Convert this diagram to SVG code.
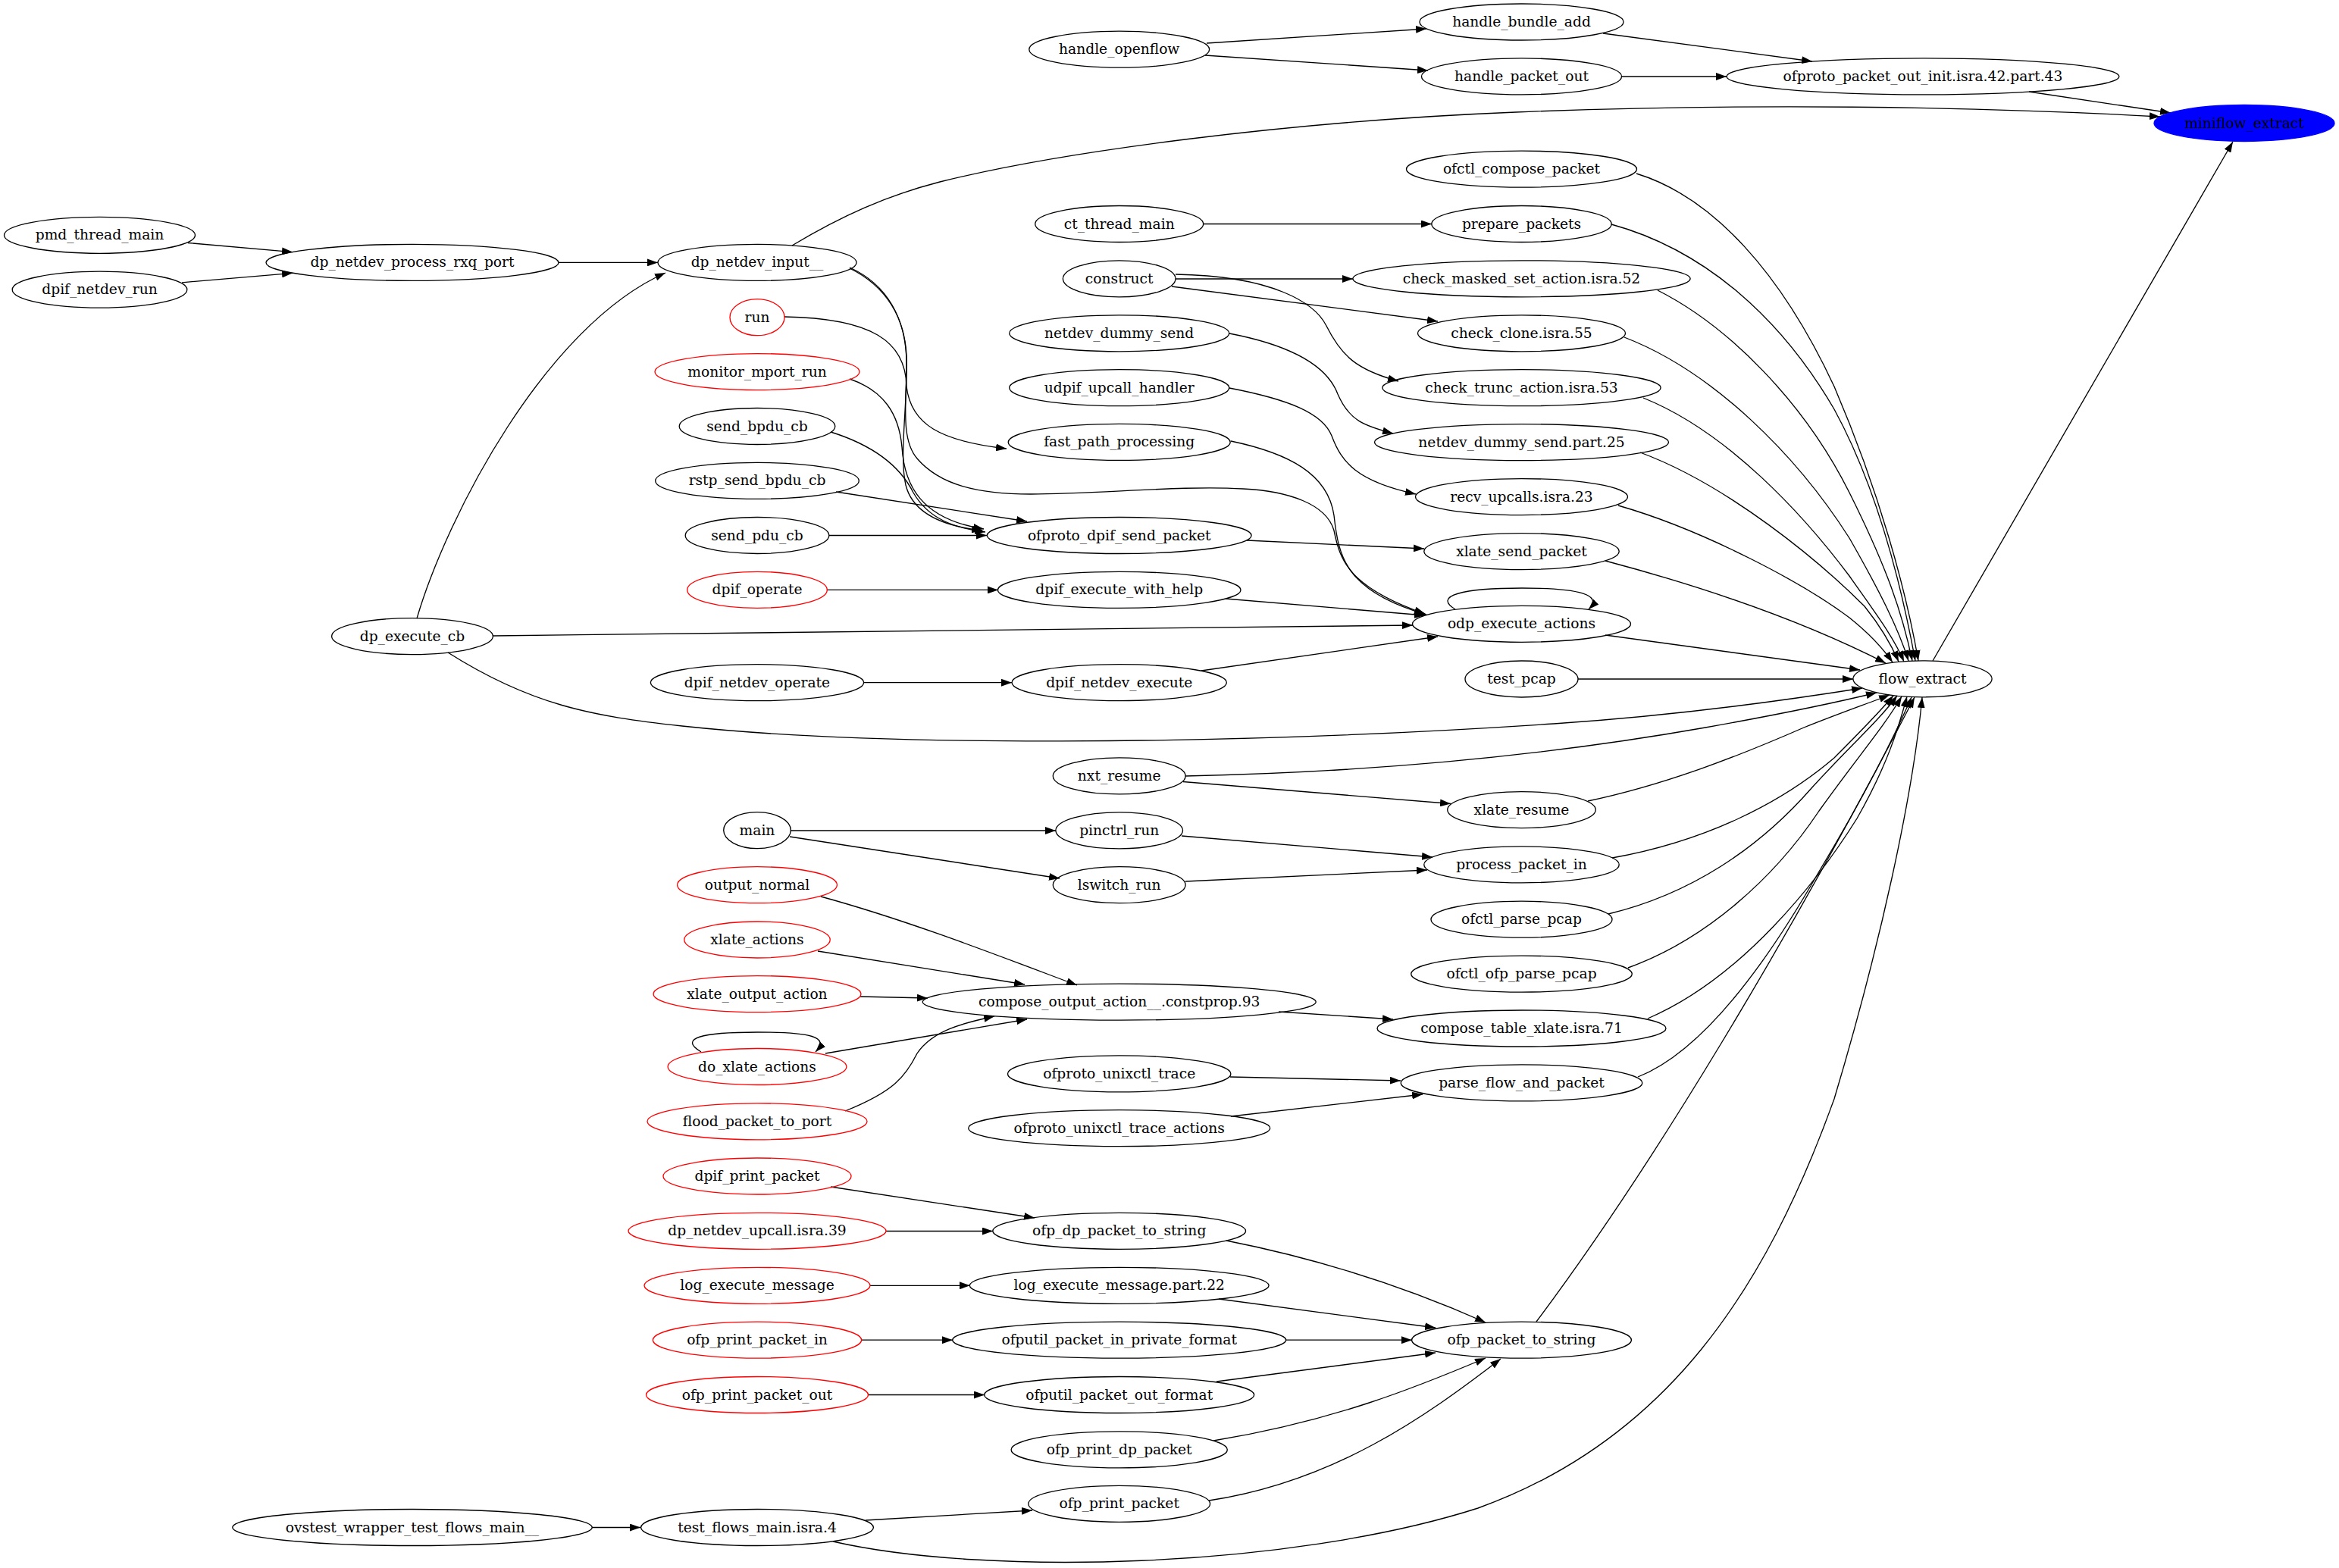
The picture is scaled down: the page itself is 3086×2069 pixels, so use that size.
<svg xmlns="http://www.w3.org/2000/svg" width="3086" height="2069" viewBox="0 0 3086 2069">
<style>
.n ellipse{fill:none;stroke:#000;stroke-width:1.33}
.r ellipse{stroke:#ff0000}
.n text{font-family:"DejaVu Serif","Liberation Serif",serif;font-size:18.67px;text-anchor:middle;fill:#000}
#edges path{fill:none;stroke:#000;stroke-width:1.33;marker-end:url(#ah)}
</style>
<defs>
<marker id="ah" markerUnits="userSpaceOnUse" markerWidth="14" markerHeight="10" viewBox="0 0 13.3 9.4" refX="13.3" refY="4.7" orient="auto"><path d="M0,0 L13.3,4.7 L0,9.4 z" fill="#000"/></marker>
</defs>
<rect width="3086" height="2069" fill="#fff"/>
<g id="edges">
<path d="M248,320.5 L386,332.6"/>
<path d="M240,372.8 L386,360.3"/>
<path d="M737,346.4 L868,346.4"/>
<path d="M550,816 C590,680 720,430 878,360"/>
<path d="M1045,324 C1110,285 1170,258 1240,240 C1400,200 1700,160 2000,148 C2300,136 2600,140 2850,154"/>
<path d="M1592,57 L1882,38"/>
<path d="M1590,73 L1884,93"/>
<path d="M2115,44 L2391,81"/>
<path d="M2139,101 L2278,101"/>
<path d="M2677,121 L2864,149"/>
<path d="M2550,872 L2946,187"/>
<path d="M1588,295.5 L1889,295.5"/>
<path d="M1551,368 L1785,368"/>
<path d="M1546,378 L1897,424"/>
<path d="M1551,362 C1680,364 1735,400 1750,430 C1770,470 1790,488 1845,503"/>
<path d="M1622,440 C1700,455 1750,480 1765,520 C1780,555 1800,562 1838,572"/>
<path d="M1622,512 C1700,527 1745,545 1757,575 C1770,610 1790,635 1868,652"/>
<path d="M1035,418 C1150,420 1195,450 1196,510 C1202,560 1240,582 1328,592"/>
<path d="M1121,353 C1170,375 1196,420 1196,480 C1196,530 1188,580 1210,605 C1240,640 1290,652 1360,652 C1450,652 1560,640 1640,645 C1700,648 1750,665 1760,700 C1768,740 1780,775 1880,810"/>
<path d="M1624,582 C1700,598 1752,625 1760,680 C1766,735 1775,780 1882,811"/>
<path d="M1121,354 C1170,378 1194,420 1196,470 C1198,530 1186,600 1195,640 C1205,680 1250,695 1296,700"/>
<path d="M1121,500 C1165,515 1186,545 1190,590 C1193,640 1215,685 1298,698"/>
<path d="M1096,570 C1160,590 1190,620 1205,650 C1225,685 1260,697 1300,702"/>
<path d="M1103,649 L1355,688"/>
<path d="M1094,706.5 L1302,706.5"/>
<path d="M1645,713 L1879,724"/>
<path d="M1091,778.4 L1317,778.4"/>
<path d="M1617,790 L1880,812"/>
<path d="M650,839 L1864,825"/>
<path d="M1140,900.7 L1335,900.7"/>
<path d="M1585,885 L1897,840"/>
<path d="M591,861 C700,930 780,945 900,958 C1150,985 1600,985 2050,955 C2200,945 2350,925 2457,908"/>
<path d="M2118,838 L2454,884"/>
<path d="M2082,896 L2445,896"/>
<path d="M1564,1024 C1850,1018 2080,990 2250,960 C2340,944 2410,930 2476,914"/>
<path d="M1561,1031.5 L1914,1060.5"/>
<path d="M2095,1057 C2200,1035 2300,995 2380,960 C2430,940 2465,928 2493,917"/>
<path d="M1043,1096 L1393,1096"/>
<path d="M1042,1104 L1398,1159"/>
<path d="M1559,1103 L1890,1131"/>
<path d="M1564,1163 L1883,1148"/>
<path d="M2127,1132 C2250,1110 2350,1060 2420,1000 C2450,970 2475,945 2498,918"/>
<path d="M2122,1206 C2230,1180 2320,1120 2390,1040 C2440,985 2480,950 2503,918"/>
<path d="M2148,1277 C2250,1240 2340,1160 2400,1070 C2450,1000 2485,960 2509,919"/>
<path d="M2174,1344 C2300,1290 2400,1160 2450,1080 C2490,1010 2505,960 2516,919"/>
<path d="M2161,1421 C2240,1390 2320,1290 2400,1150 C2460,1050 2500,970 2522,920"/>
<path d="M2027,1744 C2180,1540 2360,1240 2526,920"/>
<path d="M1099,2034 C1300,2080 1700,2070 1950,1990 C2200,1900 2330,1700 2420,1450 C2480,1250 2524,1050 2536,920"/>
<path d="M2159,229 C2260,260 2350,360 2420,510 C2480,650 2515,780 2531,872"/>
<path d="M2126,296 C2250,330 2350,420 2420,540 C2480,650 2510,780 2527,872"/>
<path d="M2187,383 C2280,430 2380,530 2440,650 C2490,750 2510,810 2523,872"/>
<path d="M2143,445 C2260,490 2370,600 2440,710 C2480,780 2505,830 2518,872"/>
<path d="M2168,525 C2280,570 2380,680 2440,760 C2475,810 2498,840 2512,873"/>
<path d="M2164,597 C2280,640 2400,740 2460,800 C2480,825 2495,850 2505,873"/>
<path d="M2135,667 C2250,700 2380,770 2440,815 C2465,835 2482,852 2497,874"/>
<path d="M2118,740 C2250,775 2380,820 2488,875"/>
<path d="M1083,1183 C1200,1215 1320,1262 1421,1300"/>
<path d="M1079,1255 L1352,1299"/>
<path d="M1135,1315 L1224,1317"/>
<path d="M1089,1390 L1355,1345"/>
<path d="M1115,1466 C1180,1440 1195,1420 1210,1390 C1230,1360 1270,1350 1312,1341"/>
<path d="M925,1388 C895,1370 925,1362 999,1362 C1070,1362 1095,1368 1076,1388"/>
<path d="M1687,1335 L1838,1345"/>
<path d="M1623,1421 L1848,1426"/>
<path d="M1624,1473 L1877,1444"/>
<path d="M1096,1566 L1365,1607"/>
<path d="M1169,1624.5 L1310,1624.5"/>
<path d="M1148,1696.3 L1280,1696.3"/>
<path d="M1136,1768.2 L1257,1768.2"/>
<path d="M1146,1840.5 L1299,1840.5"/>
<path d="M1618,1637 C1760,1665 1870,1705 1960,1745"/>
<path d="M1608,1714 L1894,1752"/>
<path d="M1697,1768.2 L1863,1768.2"/>
<path d="M1605,1823 L1894,1785"/>
<path d="M1601,1901 C1760,1875 1870,1830 1960,1792"/>
<path d="M1595,1980 C1760,1955 1880,1870 1980,1793"/>
<path d="M781,2015.5 L845,2015.5"/>
<path d="M1142,2006 L1362,1993"/>
<path d="M1920,804 C1890,786 1930,776 2008,776 C2085,776 2115,785 2096,804"/>
</g>
<g id="n_pmd_thread_main" class="n"><ellipse cx="131.5" cy="310.3" rx="126" ry="24"/><text x="131.5" y="316.3">pmd_thread_main</text></g>
<g id="n_dpif_netdev_run" class="n"><ellipse cx="131.5" cy="382.2" rx="115.3" ry="24"/><text x="131.5" y="388.2">dpif_netdev_run</text></g>
<g id="n_dp_netdev_process_rxq_port" class="n"><ellipse cx="544" cy="346.4" rx="193" ry="24"/><text x="544" y="352.4">dp_netdev_process_rxq_port</text></g>
<g id="n_dp_execute_cb" class="n"><ellipse cx="544" cy="839.6" rx="106.4" ry="24"/><text x="544" y="845.6">dp_execute_cb</text></g>
<g id="n_ovstest_wrapper_test_flows_main__" class="n"><ellipse cx="544" cy="2015.5" rx="237.2" ry="24"/><text x="544" y="2021.5">ovstest_wrapper_test_flows_main__</text></g>
<g id="n_dp_netdev_input__" class="n"><ellipse cx="999" cy="346.4" rx="131" ry="24"/><text x="999" y="352.4">dp_netdev_input__</text></g>
<g id="n_run" class="n r"><ellipse cx="999" cy="418.7" rx="36" ry="24"/><text x="999" y="424.7">run</text></g>
<g id="n_monitor_mport_run" class="n r"><ellipse cx="999" cy="490.6" rx="135" ry="24"/><text x="999" y="496.6">monitor_mport_run</text></g>
<g id="n_send_bpdu_cb" class="n"><ellipse cx="999" cy="562.5" rx="102.8" ry="24"/><text x="999" y="568.5">send_bpdu_cb</text></g>
<g id="n_rstp_send_bpdu_cb" class="n"><ellipse cx="999" cy="634.4" rx="134.3" ry="24"/><text x="999" y="640.4">rstp_send_bpdu_cb</text></g>
<g id="n_send_pdu_cb" class="n"><ellipse cx="999" cy="706.5" rx="94.8" ry="24"/><text x="999" y="712.5">send_pdu_cb</text></g>
<g id="n_dpif_operate" class="n r"><ellipse cx="999" cy="778.4" rx="92.3" ry="24"/><text x="999" y="784.4">dpif_operate</text></g>
<g id="n_dpif_netdev_operate" class="n"><ellipse cx="999" cy="900.7" rx="140.6" ry="24"/><text x="999" y="906.7">dpif_netdev_operate</text></g>
<g id="n_main" class="n"><ellipse cx="999" cy="1095.6" rx="44.3" ry="24"/><text x="999" y="1101.6">main</text></g>
<g id="n_output_normal" class="n r"><ellipse cx="999" cy="1167.7" rx="105.4" ry="24"/><text x="999" y="1173.7">output_normal</text></g>
<g id="n_xlate_actions" class="n r"><ellipse cx="999" cy="1240" rx="96.2" ry="24"/><text x="999" y="1246">xlate_actions</text></g>
<g id="n_xlate_output_action" class="n r"><ellipse cx="999" cy="1311.6" rx="137" ry="24"/><text x="999" y="1317.6">xlate_output_action</text></g>
<g id="n_do_xlate_actions" class="n r"><ellipse cx="999" cy="1407.5" rx="117.9" ry="24"/><text x="999" y="1413.5">do_xlate_actions</text></g>
<g id="n_flood_packet_to_port" class="n r"><ellipse cx="999" cy="1479.8" rx="145" ry="24"/><text x="999" y="1485.8">flood_packet_to_port</text></g>
<g id="n_dpif_print_packet" class="n r"><ellipse cx="999" cy="1552" rx="124" ry="24"/><text x="999" y="1558">dpif_print_packet</text></g>
<g id="n_dp_netdev_upcall_isra_39" class="n r"><ellipse cx="999" cy="1624.3" rx="170" ry="24"/><text x="999" y="1630.3">dp_netdev_upcall.isra.39</text></g>
<g id="n_log_execute_message" class="n r"><ellipse cx="999" cy="1696.3" rx="149" ry="24"/><text x="999" y="1702.3">log_execute_message</text></g>
<g id="n_ofp_print_packet_in" class="n r"><ellipse cx="999" cy="1768.2" rx="137.6" ry="24"/><text x="999" y="1774.2">ofp_print_packet_in</text></g>
<g id="n_ofp_print_packet_out" class="n r"><ellipse cx="999" cy="1840.5" rx="146.5" ry="24"/><text x="999" y="1846.5">ofp_print_packet_out</text></g>
<g id="n_test_flows_main_isra_4" class="n"><ellipse cx="999" cy="2015.5" rx="153.4" ry="24"/><text x="999" y="2021.5">test_flows_main.isra.4</text></g>
<g id="n_handle_openflow" class="n"><ellipse cx="1476.7" cy="65.2" rx="118.9" ry="24"/><text x="1476.7" y="71.2">handle_openflow</text></g>
<g id="n_ct_thread_main" class="n"><ellipse cx="1476.7" cy="295.5" rx="111" ry="24"/><text x="1476.7" y="301.5">ct_thread_main</text></g>
<g id="n_construct" class="n"><ellipse cx="1476.7" cy="367.8" rx="74.3" ry="24"/><text x="1476.7" y="373.8">construct</text></g>
<g id="n_netdev_dummy_send" class="n"><ellipse cx="1476.7" cy="439.8" rx="145" ry="24"/><text x="1476.7" y="445.8">netdev_dummy_send</text></g>
<g id="n_udpif_upcall_handler" class="n"><ellipse cx="1476.7" cy="511.7" rx="145" ry="24"/><text x="1476.7" y="517.7">udpif_upcall_handler</text></g>
<g id="n_fast_path_processing" class="n"><ellipse cx="1476.7" cy="583.4" rx="146.5" ry="24"/><text x="1476.7" y="589.4">fast_path_processing</text></g>
<g id="n_ofproto_dpif_send_packet" class="n"><ellipse cx="1476.7" cy="706.5" rx="174.4" ry="24"/><text x="1476.7" y="712.5">ofproto_dpif_send_packet</text></g>
<g id="n_dpif_execute_with_help" class="n"><ellipse cx="1476.7" cy="778.4" rx="160.3" ry="24"/><text x="1476.7" y="784.4">dpif_execute_with_help</text></g>
<g id="n_dpif_netdev_execute" class="n"><ellipse cx="1476.7" cy="900.7" rx="141.6" ry="24"/><text x="1476.7" y="906.7">dpif_netdev_execute</text></g>
<g id="n_nxt_resume" class="n"><ellipse cx="1476.7" cy="1023.9" rx="87.4" ry="24"/><text x="1476.7" y="1029.9">nxt_resume</text></g>
<g id="n_pinctrl_run" class="n"><ellipse cx="1476.7" cy="1095.8" rx="83.8" ry="24"/><text x="1476.7" y="1101.8">pinctrl_run</text></g>
<g id="n_lswitch_run" class="n"><ellipse cx="1476.7" cy="1167.7" rx="87.4" ry="24"/><text x="1476.7" y="1173.7">lswitch_run</text></g>
<g id="n_compose_output_action__constprop_93" class="n"><ellipse cx="1476.7" cy="1322.1" rx="259.5" ry="24"/><text x="1476.7" y="1328.1">compose_output_action__.constprop.93</text></g>
<g id="n_ofproto_unixctl_trace" class="n"><ellipse cx="1476.7" cy="1416.9" rx="147.2" ry="24"/><text x="1476.7" y="1422.9">ofproto_unixctl_trace</text></g>
<g id="n_ofproto_unixctl_trace_actions" class="n"><ellipse cx="1476.7" cy="1488.7" rx="199" ry="24"/><text x="1476.7" y="1494.7">ofproto_unixctl_trace_actions</text></g>
<g id="n_ofp_dp_packet_to_string" class="n"><ellipse cx="1476.7" cy="1624.3" rx="166.9" ry="24"/><text x="1476.7" y="1630.3">ofp_dp_packet_to_string</text></g>
<g id="n_log_execute_message_part_22" class="n"><ellipse cx="1476.7" cy="1696.3" rx="197.4" ry="24"/><text x="1476.7" y="1702.3">log_execute_message.part.22</text></g>
<g id="n_ofputil_packet_in_private_format" class="n"><ellipse cx="1476.7" cy="1768.2" rx="220" ry="24"/><text x="1476.7" y="1774.2">ofputil_packet_in_private_format</text></g>
<g id="n_ofputil_packet_out_format" class="n"><ellipse cx="1476.7" cy="1840.5" rx="178" ry="24"/><text x="1476.7" y="1846.5">ofputil_packet_out_format</text></g>
<g id="n_ofp_print_dp_packet" class="n"><ellipse cx="1476.7" cy="1912.9" rx="142.6" ry="24"/><text x="1476.7" y="1918.9">ofp_print_dp_packet</text></g>
<g id="n_ofp_print_packet" class="n"><ellipse cx="1476.7" cy="1984.3" rx="119.9" ry="24"/><text x="1476.7" y="1990.3">ofp_print_packet</text></g>
<g id="n_handle_bundle_add" class="n"><ellipse cx="2007.5" cy="29" rx="134.5" ry="24"/><text x="2007.5" y="35">handle_bundle_add</text></g>
<g id="n_handle_packet_out" class="n"><ellipse cx="2007.5" cy="100.9" rx="132" ry="24"/><text x="2007.5" y="106.9">handle_packet_out</text></g>
<g id="n_ofctl_compose_packet" class="n"><ellipse cx="2007.5" cy="223.2" rx="152" ry="24"/><text x="2007.5" y="229.2">ofctl_compose_packet</text></g>
<g id="n_prepare_packets" class="n"><ellipse cx="2007.5" cy="295.5" rx="118.7" ry="24"/><text x="2007.5" y="301.5">prepare_packets</text></g>
<g id="n_check_masked_set_action_isra_52" class="n"><ellipse cx="2007.5" cy="367.8" rx="222.6" ry="24"/><text x="2007.5" y="373.8">check_masked_set_action.isra.52</text></g>
<g id="n_check_clone_isra_55" class="n"><ellipse cx="2007.5" cy="439.8" rx="137" ry="24"/><text x="2007.5" y="445.8">check_clone.isra.55</text></g>
<g id="n_check_trunc_action_isra_53" class="n"><ellipse cx="2007.5" cy="511.7" rx="183.6" ry="24"/><text x="2007.5" y="517.7">check_trunc_action.isra.53</text></g>
<g id="n_netdev_dummy_send_part_25" class="n"><ellipse cx="2007.5" cy="583.6" rx="194" ry="24"/><text x="2007.5" y="589.6">netdev_dummy_send.part.25</text></g>
<g id="n_recv_upcalls_isra_23" class="n"><ellipse cx="2007.5" cy="655.6" rx="140" ry="24"/><text x="2007.5" y="661.6">recv_upcalls.isra.23</text></g>
<g id="n_xlate_send_packet" class="n"><ellipse cx="2007.5" cy="727.6" rx="128.7" ry="24"/><text x="2007.5" y="733.6">xlate_send_packet</text></g>
<g id="n_odp_execute_actions" class="n"><ellipse cx="2007.5" cy="823.3" rx="144" ry="24"/><text x="2007.5" y="829.3">odp_execute_actions</text></g>
<g id="n_test_pcap" class="n"><ellipse cx="2007.5" cy="896" rx="74.5" ry="24"/><text x="2007.5" y="902">test_pcap</text></g>
<g id="n_xlate_resume" class="n"><ellipse cx="2007.5" cy="1068.6" rx="97.8" ry="24"/><text x="2007.5" y="1074.6">xlate_resume</text></g>
<g id="n_process_packet_in" class="n"><ellipse cx="2007.5" cy="1140.9" rx="128.7" ry="24"/><text x="2007.5" y="1146.9">process_packet_in</text></g>
<g id="n_ofctl_parse_pcap" class="n"><ellipse cx="2007.5" cy="1213.2" rx="119.5" ry="24"/><text x="2007.5" y="1219.2">ofctl_parse_pcap</text></g>
<g id="n_ofctl_ofp_parse_pcap" class="n"><ellipse cx="2007.5" cy="1285.1" rx="145.8" ry="24"/><text x="2007.5" y="1291.1">ofctl_ofp_parse_pcap</text></g>
<g id="n_compose_table_xlate_isra_71" class="n"><ellipse cx="2007.5" cy="1357" rx="190.5" ry="24"/><text x="2007.5" y="1363">compose_table_xlate.isra.71</text></g>
<g id="n_parse_flow_and_packet" class="n"><ellipse cx="2007.5" cy="1428.9" rx="159.3" ry="24"/><text x="2007.5" y="1434.9">parse_flow_and_packet</text></g>
<g id="n_ofp_packet_to_string" class="n"><ellipse cx="2007.5" cy="1768.2" rx="144.9" ry="24"/><text x="2007.5" y="1774.2">ofp_packet_to_string</text></g>
<g id="n_ofproto_packet_out_init_isra_42_part_43" class="n"><ellipse cx="2537" cy="100.9" rx="258.9" ry="24"/><text x="2537" y="106.9">ofproto_packet_out_init.isra.42.part.43</text></g>
<g id="n_flow_extract" class="n"><ellipse cx="2536.5" cy="895.8" rx="91.6" ry="24"/><text x="2536.5" y="901.8">flow_extract</text></g>
<g id="n_miniflow_extract" class="n"><ellipse cx="2961" cy="162.5" rx="119" ry="24" style="fill:#0000ff;stroke:#0000ff"/><text x="2961" y="168.5">miniflow_extract</text></g>
</svg>
